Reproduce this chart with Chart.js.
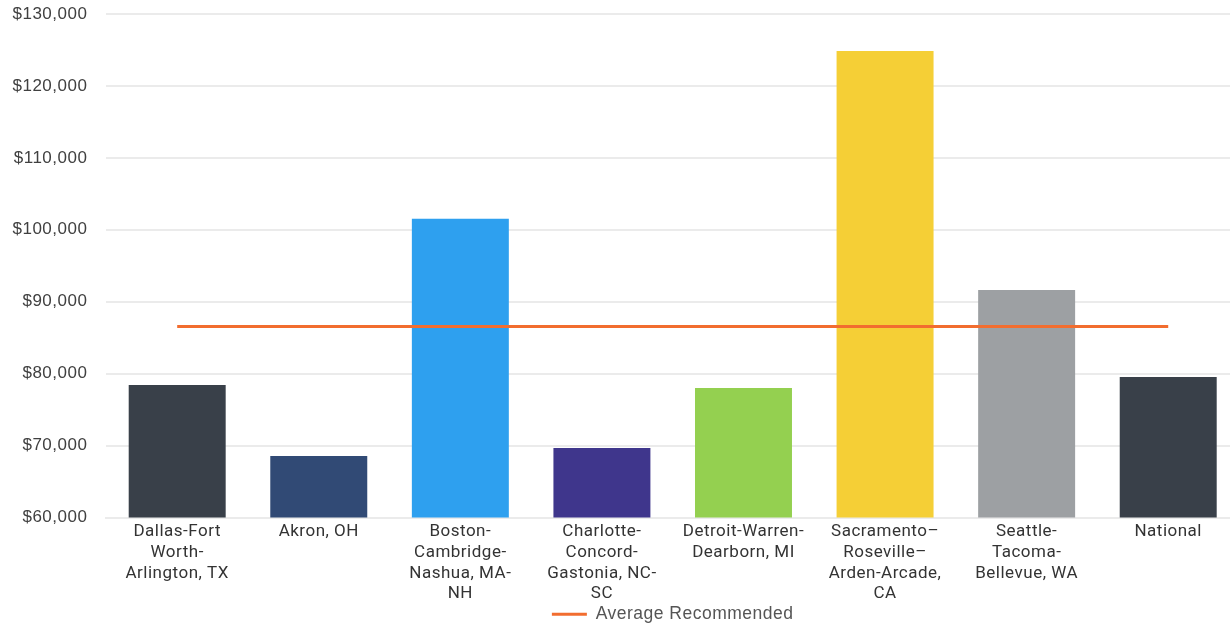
<!DOCTYPE html>
<html>
<head>
<meta charset="utf-8">
<script src="https://cdn.jsdelivr.net/npm/chart.js@4"></script>
<style>
html,body{margin:0;padding:0;background:#fff;overflow:hidden;width:1230px;height:626px;}
#wrap{width:1239px;height:626px;position:relative;}
</style>
</head>
<body>
<div id="wrap"><canvas id="c"></canvas></div>
<script>
const categories = [
  ["Dallas-Fort","Worth-","Arlington, TX"],
  ["Akron, OH"],
  ["Boston-","Cambridge-","Nashua, MA-","NH"],
  ["Charlotte-","Concord-","Gastonia, NC-","SC"],
  ["Detroit-Warren-","Dearborn, MI"],
  ["Sacramento\u2013","Roseville\u2013","Arden-Arcade,","CA"],
  ["Seattle-","Tacoma-","Bellevue, WA"],
  ["National"]
];
const salaryValues = [78430, 68570, 101530, 69680, 78010, 124860, 91620, 79540];
const averageRecommended = [86570, 86570, 86570, 86570, 86570, 86570, 86570, 86570];
const barColors = ["#394049","#314a75","#2ea0ef","#3f368c","#94d050","#f5cf36","#9da0a3","#394049"];
const yTicks = [60000, 70000, 80000, 90000, 100000, 110000, 120000, 130000];
const lineLabel = "Average Recommended";

const spacing = {
  id: 'spacing',
  beforeLayout(chart) { chart.ctx.letterSpacing = '0.5px'; },
  beforeDraw(chart) { chart.ctx.letterSpacing = '0.5px'; }
};

new Chart(document.getElementById('c'), {
  plugins: [spacing],
  data: {
    labels: categories,
    datasets: [
      {
        type: 'line',
        label: lineLabel,
        data: averageRecommended,
        borderColor: '#f26d2f',
        backgroundColor: '#f26d2f',
        borderWidth: 3,
        pointRadius: 0,
        pointStyle: 'line',
        order: 0
      },
      {
        type: 'bar',
        label: 'Salary',
        data: salaryValues,
        backgroundColor: barColors,
        borderWidth: 0,
        categoryPercentage: 1,
        barPercentage: 0.685,
        order: 1
      }
    ]
  },
  options: {
    responsive: true,
    maintainAspectRatio: false,
    animation: false,
    layout: { padding: { top: 14, right: 0, left: 11.5, bottom: -7 } },
    plugins: {
      tooltip: { enabled: false },
      legend: {
        position: 'bottom',
        fullSize: false,
        labels: {
          filter: (item) => item.text === lineLabel,
          usePointStyle: true,
          pointStyleWidth: 35,
          boxHeight: 3,
          padding: 0,
          color: '#555',
          font: { family: 'Liberation Sans', size: 17.5 }
        }
      }
    },
    scales: {
      x: {
        afterFit: (s) => { s.paddingLeft = 0; s.paddingRight = 0; s.height -= 3; },
        grid: { display: false, drawTicks: false },
        border: { display: true, color: '#ebebeb', width: 2 },
        ticks: {
          autoSkip: false,
          maxRotation: 0,
          minRotation: 0,
          padding: 4,
          color: '#333',
          font: { family: 'Roboto', size: 17, lineHeight: 1.22 }
        }
      },
      y: {
        min: 60000,
        max: 130000,
        afterFit: (s) => { s.paddingTop = 0; s.paddingBottom = 0; s.width -= 18; },
        afterBuildTicks: (axis) => { axis.ticks = yTicks.map(v => ({ value: v })); },
        grid: { color: '#ebebeb', lineWidth: 2, drawTicks: false },
        border: { display: false },
        ticks: {
          padding: 19,
          color: '#404040',
          font: { family: 'Liberation Sans', size: 17 },
          callback: (v) => '$' + Number(v).toLocaleString('en-US')
        }
      }
    }
  }
});
</script>
</body>
</html>
